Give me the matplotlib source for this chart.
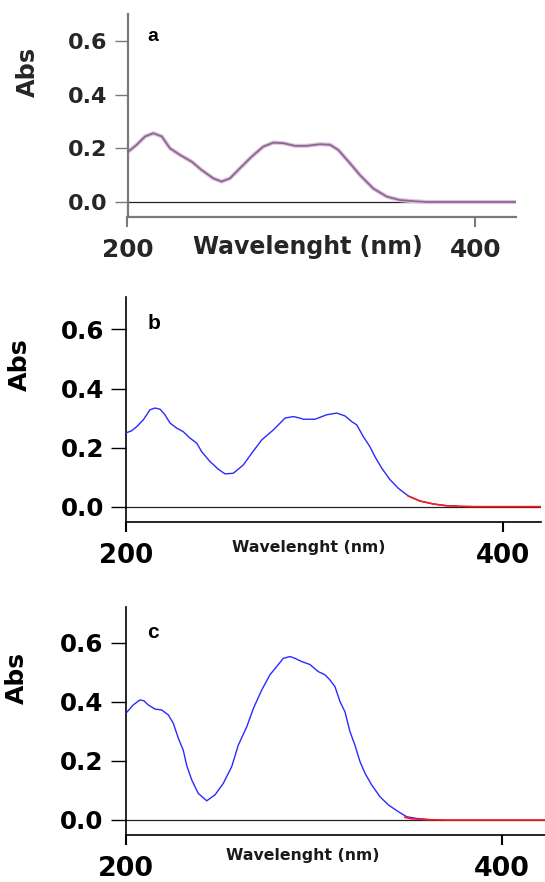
import matplotlib
matplotlib.use("Agg")
from matplotlib import pyplot as plt

# spectrum a (purple trace)
wl_a = [200, 200.5, 205.3, 210.1, 214.8, 219.7, 224.4, 230.2, 236.9, 242.6, 249.3, 254.1,
        258.9, 264.7, 271.4, 278, 283.8, 289.5, 296.3, 303, 310.6, 316.4, 321.1, 327.9,
        333.6, 341.3, 349, 356.6, 364.3, 372, 423]
abs_a = [0.185, 0.188, 0.213, 0.244, 0.256, 0.244, 0.20, 0.175, 0.150, 0.119, 0.088,
         0.076, 0.088, 0.126, 0.169, 0.206, 0.221, 0.219, 0.209, 0.209, 0.215, 0.213,
         0.194, 0.144, 0.10, 0.05, 0.02, 0.007, 0.003, 0.0, 0.0]

# spectrum b (blue trace + red tail)
wl_b = [200, 202.9, 205.6, 209.1, 212.6, 215.3, 218, 220.6, 223.3, 226.8, 230.3, 233.9,
        237.5, 240.1, 244.5, 248.9, 252.5, 256.9, 262.2, 266.7, 272, 278.2, 284.4, 288.8,
        292.3, 294.1, 300.3, 306.5, 311.9, 316.3, 319.8, 322.5, 326, 329.5, 332.2, 335.8,
        340.2, 344.6, 349.9, 356.1, 363.2, 370.3, 375.6]
abs_b = [0.25, 0.257, 0.271, 0.294, 0.328, 0.334, 0.330, 0.311, 0.283, 0.266, 0.254,
         0.232, 0.215, 0.186, 0.153, 0.127, 0.111, 0.113, 0.141, 0.181, 0.226, 0.26,
         0.30, 0.305, 0.30, 0.296, 0.296, 0.311, 0.317, 0.307, 0.288, 0.277, 0.237,
         0.203, 0.169, 0.130, 0.091, 0.062, 0.036, 0.019, 0.009, 0.003, 0.002]
wl_b_red = [349.9, 356.1, 363.2, 370.3, 375.6, 385, 420.5]
abs_b_red = [0.036, 0.019, 0.009, 0.003, 0.002, 0.0, 0.0]

# spectrum c (blue trace + red tail)
wl_c = [200, 204.1, 207.7, 209.8, 212.1, 215.7, 219.2, 222.8, 225.4, 228.1, 230.7, 232.5,
        235.2, 238.7, 243.2, 247.6, 252, 256.5, 260, 264.5, 268, 272.4, 276.8, 280.4,
        283.9, 287.5, 290.1, 293.7, 298.1, 302.5, 306.1, 308.7, 311.4, 314.1, 316.7,
        319.4, 322, 324.7, 327.4, 330.9, 335.3, 339.8, 345.1, 349.5, 355, 360.6]
abs_c = [0.36, 0.39, 0.407, 0.404, 0.39, 0.376, 0.373, 0.356, 0.328, 0.277, 0.237,
         0.186, 0.136, 0.09, 0.065, 0.085, 0.124, 0.181, 0.254, 0.316, 0.378, 0.44,
         0.492, 0.52, 0.548, 0.554, 0.548, 0.537, 0.527, 0.503, 0.492, 0.475, 0.452,
         0.401, 0.367, 0.299, 0.254, 0.198, 0.158, 0.119, 0.079, 0.051, 0.028, 0.011,
         0.005, 0.002]
wl_c_red = [348.6, 352, 360, 370, 423.1]
abs_c_red = [0.009, 0.004, 0.001, 0.0, 0.0]

y_ticks = [0.0, 0.2, 0.4, 0.6]
x_ticks = [200, 400]

W, H = 545, 882


def px_axes(fig, l, r, t, b):
    return fig.add_axes([l / W, (H - b) / H, (r - l) / W, (b - t) / H])


def style(ax, xlim, ylim, spine_col, txt_col, spine_w, ysize, xsize, ylen):
    ax.set_xlim(*xlim)
    ax.set_ylim(*ylim)
    for s in ["top", "right"]:
        ax.spines[s].set_visible(False)
    for s in ["left", "bottom"]:
        ax.spines[s].set_color(spine_col)
        ax.spines[s].set_linewidth(spine_w)
    ax.set_yticks(y_ticks)
    ax.set_yticklabels(["%.1f" % v for v in y_ticks])
    ax.set_xticks(x_ticks)
    ax.set_xticklabels([str(v) for v in x_ticks])
    ax.tick_params(axis="y", direction="out", length=ylen, width=1, color=spine_col,
                   pad=5, labelsize=ysize, labelcolor=txt_col)
    ax.tick_params(axis="x", direction="out", length=7, width=1.5, color=spine_col,
                   pad=8, labelsize=xsize, labelcolor=txt_col)
    for lab in ax.get_xticklabels() + ax.get_yticklabels():
        lab.set_fontweight("bold")
        lab.set_family("DejaVu Sans")
    ax.axhline(0, color="#222222", lw=0.9, zorder=1)
    ax.patch.set_alpha(0)


fig = plt.figure(figsize=(W / 100, H / 100), dpi=100)

# ---- a ----
ax_a = px_axes(fig, 127.5, 515.5, 14, 217)
style(ax_a, (200, 423), (-0.056, 0.70), "#7a7a7a", "#262626", 1.6, 16, 17.8, 9.5)
ax_a.plot(wl_a, abs_a, color="#e2c2e2", lw=3.0, zorder=2)
ax_a.plot(wl_a, abs_a, color="#8a6a8c", lw=1.3, zorder=3)
ax_a.text(0.464, -0.148, "Wavelenght (nm)", transform=ax_a.transAxes, ha="center",
          va="center", fontsize=17, fontweight="bold", color="#262626")
ax_a.text(-0.257, 0.714, "Abs", transform=ax_a.transAxes, ha="center", va="center",
          rotation=90, fontsize=17.3, fontweight="bold", color="#262626")
ax_a.text(0.066, 0.887, "a", transform=ax_a.transAxes, ha="center", va="center",
          fontsize=14, fontweight="bold", family="Liberation Sans")

# ---- b ----
ax_b = px_axes(fig, 126.2, 541.2, 297, 522)
style(ax_b, (200, 420.5), (-0.052, 0.71), "black", "black", 1.2, 17.7, 18.7, 11)
ax_b.plot(wl_b, abs_b, color="#2a2aff", lw=1.0, zorder=3)
ax_b.plot(wl_b_red, abs_b_red, color="#ff1a1a", lw=1.2, zorder=4)
ax_b.text(0.44, -0.115, "Wavelenght (nm)", transform=ax_b.transAxes, ha="center",
          va="center", fontsize=11.3, fontweight="bold", color="#1a1a1a")
ax_b.text(-0.257, 0.698, "Abs", transform=ax_b.transAxes, ha="center", va="center",
          rotation=90, fontsize=18.3, fontweight="bold")
ax_b.text(0.067, 0.884, "b", transform=ax_b.transAxes, ha="center", va="center",
          fontsize=15, fontweight="bold", family="Liberation Sans")

# ---- c ----
ax_c = px_axes(fig, 125.5, 545, 607, 835)
style(ax_c, (200, 423.1), (-0.051, 0.722), "black", "black", 1.2, 17.7, 19.4, 11)
ax_c.plot(wl_c, abs_c, color="#2a2aff", lw=1.0, zorder=3)
ax_c.plot(wl_c_red, abs_c_red, color="#ff1a1a", lw=1.2, zorder=4)
ax_c.text(0.423, -0.088, "Wavelenght (nm)", transform=ax_c.transAxes, ha="center",
          va="center", fontsize=11.3, fontweight="bold", color="#1a1a1a")
ax_c.text(-0.258, 0.689, "Abs", transform=ax_c.transAxes, ha="center", va="center",
          rotation=90, fontsize=18, fontweight="bold")
ax_c.text(0.065, 0.89, "c", transform=ax_c.transAxes, ha="center", va="center",
          fontsize=15, fontweight="bold", family="Liberation Sans")

fig.savefig("out.png", dpi=100)
